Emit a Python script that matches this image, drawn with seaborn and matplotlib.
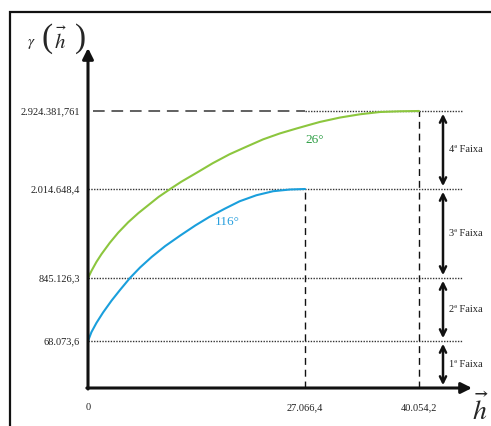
import numpy as np
import pandas as pd
import matplotlib
matplotlib.use("Agg")
import matplotlib.pyplot as plt
from matplotlib.patches import Rectangle
import seaborn as sns

# ---------------- data ----------------
y_ticks = [68073.6, 845126.3, 2014648.4, 2924381.761]
y_tick_labels = ["68.073,6", "845.126,3", "2.014.648,4", "2.924.381,761"]
x_ticks = [0, 27066.4, 40054.2]
x_tick_labels = ["0", "27.066,4", "40.054,2"]

h_116 = [0, 427, 1054, 1882, 2936, 3978, 5233, 6487, 7955, 9624, 11507, 13389,
         15145, 17028, 18910, 21005, 23088, 25184, 27066.4]
g_116 = [68073.6, 177347, 291476, 420175, 565871, 695784, 845126.3, 982717,
         1122954, 1264514, 1403428, 1535727, 1648181, 1754020, 1853244,
         1932624, 1985543, 2008034, 2014648.4]
h_26 = [0, 427, 1054, 1681, 2723, 3764, 5019, 6274, 7529, 8784, 10252, 11632,
        13477, 15560, 17655, 19751, 21834, 23929, 26025, 27636, 28775, 31054,
        33333, 35612, 37890, 40054.2]
g_26 = [845126.3, 937736, 1056805, 1158675, 1308173, 1440472, 1578062, 1697132,
        1802971, 1908810, 2014648.4, 2099140, 2199836, 2315578, 2419745,
        2507709, 2593358, 2662803, 2720674, 2764656, 2797064, 2847991, 2886186,
        2912807, 2921066, 2924381.761]
series_labels = ["116°", "26°"]
band_labels = ["1ª Faixa", "2ª Faixa", "3ª Faixa", "4ª Faixa"]

# ---------------- style ----------------
sns.set_style("white")
plt.rcParams["font.family"] = ["Liberation Serif", "DejaVu Serif"]
plt.rcParams["mathtext.fontset"] = "stix"

W, H = 491, 426
fig = plt.figure(figsize=(W / 100, H / 100), dpi=100)

def fx(x):
    return x / W

def fy(y):
    return 1 - y / H

# axes: origin at pixel (88, 388), x to 472, y to 48
ax = fig.add_axes([fx(88), fy(388), (472 - 88) / W, (388 - 48) / H])
ax.set_facecolor("none")

# piecewise (schematic) scales
XK = np.array([0, 27066.4, 40054.2, 46100.0])
XD = np.array([0, 217.0, 331.0, 384.0])
YK = np.array([0, 68073.6, 845126.3, 2014648.4, 2924381.761, 3660000.0])
YD = np.array([0, 47.0, 110.0, 199.0, 277.0, 340.0])

ax.set_xscale("function", functions=(lambda v: np.interp(v, XK, XD),
                                     lambda d: np.interp(d, XD, XK)))
ax.set_yscale("function", functions=(lambda v: np.interp(v, YK, YD),
                                     lambda d: np.interp(d, YD, YK)))
ax.set_xlim(XK[0], XK[-1])
ax.set_ylim(YK[0], YK[-1])

df = pd.concat([
    pd.DataFrame({"h": h_116, "g": g_116, "s": series_labels[0]}),
    pd.DataFrame({"h": h_26, "g": g_26, "s": series_labels[1]}),
])
sns.lineplot(data=df, x="h", y="g", hue="s", sort=False, estimator=None,
             palette={series_labels[0]: "#1a9fdc", series_labels[1]: "#8cc63e"},
             linewidth=1.5, legend=False, ax=ax, zorder=4)

# reference lines
line_end = (462 - 88) / 384
dot = (0, (1, 1))
for v in y_ticks[:3]:
    ax.axhline(v, xmin=0, xmax=line_end, color="#333333", lw=1.0, ls=dot, zorder=2)
ax.hlines(y_ticks[3], 600, x_ticks[1], color="#606060", lw=1.4,
          linestyles=(0, (6, 3.5)), zorder=2)
ax.axhline(y_ticks[3], xmin=217 / 384, xmax=line_end, color="#333333", lw=1.0,
           ls=dot, zorder=2)

# vertical dashed lines at the ranges
ax.vlines(x_ticks[1], 0, y_ticks[2], color="#111111", lw=1.0,
          linestyles=(0, (5, 3.5)), zorder=2)
ax.vlines(x_ticks[2], 0, y_ticks[3], color="#111111", lw=1.0,
          linestyles=(0, (5, 3.5)), zorder=2)

# axes with arrows
for s in ax.spines.values():
    s.set_visible(False)
ax.annotate("", xy=(1, 0), xytext=(-0.003, 0), xycoords="axes fraction",
            arrowprops=dict(arrowstyle="-|>", lw=2.2, color="#111111",
                            mutation_scale=16, shrinkA=0, shrinkB=0), zorder=5)
ax.annotate("", xy=(0, 1), xytext=(0, -0.003), xycoords="axes fraction",
            arrowprops=dict(arrowstyle="-|>", lw=2.2, color="#111111",
                            mutation_scale=16, shrinkA=0, shrinkB=0), zorder=5)

# ticks
ax.set_yticks(y_ticks)
ax.set_yticklabels(y_tick_labels)
ax.set_xticks(x_ticks)
ax.set_xticklabels(x_tick_labels)
ax.tick_params(axis="both", length=0, labelsize=7.5, colors="#222222")
ax.tick_params(axis="y", pad=6)
ax.tick_params(axis="x", pad=11)
ax.set_xlabel("")
ax.set_ylabel("")
ax.grid(False)

# band double arrows
bounds = [0] + y_ticks
arrow_x = (443 - 88) / 384
for i, lab in enumerate(band_labels):
    lo, hi = bounds[i], bounds[i + 1]
    ax.annotate("", xy=(arrow_x, hi), xytext=(arrow_x, lo),
                xycoords=("axes fraction", "data"),
                arrowprops=dict(arrowstyle="<->", lw=1.8, color="#111111",
                                mutation_scale=11, shrinkA=2, shrinkB=2),
                annotation_clip=False)
    mid_d = (np.interp(lo, YK, YD) + np.interp(hi, YK, YD)) / 2
    fig.text(fx(449), fy(388 - mid_d), lab, fontsize=7.5, color="#222222",
             ha="left", va="center")

# curve labels
fig.text(fx(315), fy(140), series_labels[1], fontsize=9.5, color="#2e9e44",
         ha="center", va="center")
fig.text(fx(227), fy(222), series_labels[0], fontsize=9.5, color="#2aa0de",
         ha="center", va="center")

# axis titles
fig.text(fx(31), fy(44), r"$\gamma$", fontsize=11, ha="center", va="center")
fig.text(fx(47), fy(39), "(", fontsize=24, ha="center", va="center")
fig.text(fx(60), fy(41), r"$\vec{h}$", fontsize=15, ha="center", va="center")
fig.text(fx(80), fy(39), ")", fontsize=24, ha="center", va="center")
fig.text(fx(480), fy(410), r"$\vec{h}$", fontsize=20, ha="center", va="center")

# outer frame (continues beyond image edge)
fig.patches.append(Rectangle((fx(10), fy(H + 10)), 1, fy(12) - fy(H + 10),
                             transform=fig.transFigure, fill=False,
                             edgecolor="#111111", lw=1.6))

fig.savefig("out.png", dpi=100)
